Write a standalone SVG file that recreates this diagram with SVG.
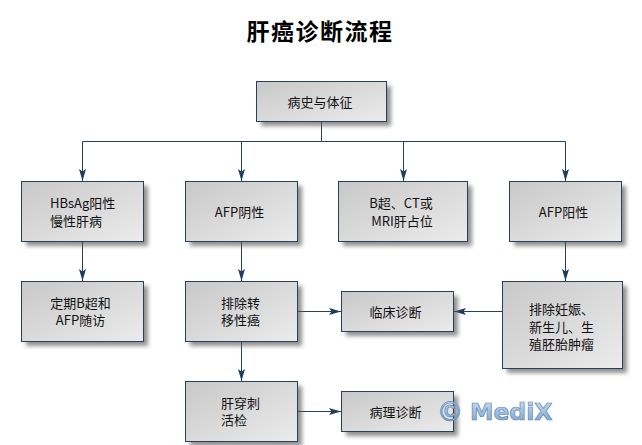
<svg xmlns="http://www.w3.org/2000/svg" width="642" height="445" viewBox="0 0 642 445">
<defs>
<linearGradient id="g" x1="0" y1="0" x2="1" y2="1"><stop offset="0" stop-color="#c8c8c8"/><stop offset="1" stop-color="#ebebeb"/></linearGradient>
<filter id="s" x="-10%" y="-10%" width="125%" height="130%"><feGaussianBlur stdDeviation="2"/></filter>
<linearGradient id="w" x1="0" y1="0" x2="0" y2="1"><stop offset="0" stop-color="#d6e4f3"/><stop offset="1" stop-color="#6f9ccb"/></linearGradient>
<marker id="a" markerUnits="userSpaceOnUse" markerWidth="13" markerHeight="13" refX="12" refY="6" orient="auto"><path d="M0,2.500 L2.500,6 L0,9.500 L12,6 Z" fill="#1f3d5e"/></marker>
</defs>
<style>
.b{fill:url(#g);stroke:#27415c;stroke-width:1}
.sh{fill:#555;opacity:.65;filter:url(#s)}
.t{font-family:"Noto Sans CJK SC","Liberation Sans",sans-serif;font-size:13px;fill:#111}
.c{fill:none;stroke:#27415c;stroke-width:1}
</style>
<rect width="642" height="445" fill="#fff"/>
<text x="320" y="40" text-anchor="middle" style="font-family:'Noto Sans CJK SC',sans-serif;font-size:23px;font-weight:700;letter-spacing:1.500px" fill="#000">肝癌诊断流程</text>
<g id="connectors">
<path class="c" d="M321.500,121 V141.500 H82.500"/>
<path class="c" d="M82.500,141.500 V181" marker-end="url(#a)"/>
<path class="c" d="M241.500,141.500 V181" marker-end="url(#a)"/>
<path class="c" d="M321.500,141.500 H565.500"/>
<path class="c" d="M403.500,141.500 V181" marker-end="url(#a)"/>
<path class="c" d="M565.500,141.500 V181" marker-end="url(#a)"/>
<path class="c" d="M82.500,242 V281" marker-end="url(#a)"/>
<path class="c" d="M241.500,242 V281" marker-end="url(#a)"/>
<path class="c" d="M565.500,242 V281" marker-end="url(#a)"/>
<path class="c" d="M297,311.500 H341" marker-end="url(#a)"/>
<path class="c" d="M502,311.500 H454" marker-end="url(#a)"/>
<path class="c" d="M241.500,341 V381" marker-end="url(#a)"/>
<path class="c" d="M297,411.500 H341" marker-end="url(#a)"/>
</g>
<g id="n1"><rect class="sh" x="261" y="86" width="130" height="40"/><rect class="b" x="256.500" y="81.500" width="130" height="40"/><text class="t" x="320" y="107" text-anchor="middle">病史与体征</text></g>
<g id="n2"><rect class="sh" x="26" y="186" width="122" height="60"/><rect class="b" x="21.500" y="181.500" width="122" height="60"/><text class="t"><tspan x="50" y="208">HBsAg阳性</tspan><tspan x="50" y="226">慢性肝病</tspan></text></g>
<g id="n3"><rect class="sh" x="190" y="186" width="112" height="60"/><rect class="b" x="185.500" y="181.500" width="112" height="60"/><text class="t" x="239.500" y="217" text-anchor="middle">AFP阴性</text></g>
<g id="n4"><rect class="sh" x="343" y="186" width="129" height="60"/><rect class="b" x="338.500" y="181.500" width="129" height="60"/><text class="t" text-anchor="middle"><tspan x="401" y="208">B超、CT或</tspan><tspan x="402" y="226">MRI肝占位</tspan></text></g>
<g id="n5"><rect class="sh" x="514" y="186" width="112" height="60"/><rect class="b" x="509.500" y="181.500" width="112" height="60"/><text class="t" x="563.500" y="217" text-anchor="middle">AFP阳性</text></g>
<g id="n6"><rect class="sh" x="26" y="286" width="122" height="60"/><rect class="b" x="21.500" y="281.500" width="122" height="60"/><text class="t" text-anchor="middle"><tspan x="80.500" y="307.500">定期B超和</tspan><tspan x="80.500" y="325">AFP随访</tspan></text></g>
<g id="n7"><rect class="sh" x="190" y="286" width="112" height="60"/><rect class="b" x="185.500" y="281.500" width="112" height="60"/><text class="t"><tspan x="221" y="307.500">排除转</tspan><tspan x="221" y="325">移性癌</tspan></text></g>
<g id="n8"><rect class="sh" x="346" y="296" width="112" height="40"/><rect class="b" x="341.500" y="291.500" width="112" height="40"/><text class="t" x="395.500" y="317" text-anchor="middle">临床诊断</text></g>
<g id="n9"><rect class="sh" x="507" y="286" width="120" height="87"/><rect class="b" x="502.500" y="281.500" width="120" height="87"/><text class="t"><tspan x="529" y="314">排除妊娠、</tspan><tspan x="529" y="331.500">新生儿、生</tspan><tspan x="529" y="349">殖胚胎肿瘤</tspan></text></g>
<g id="n10"><rect class="sh" x="190" y="386" width="112" height="60"/><rect class="b" x="185.500" y="381.500" width="112" height="60"/><text class="t"><tspan x="221" y="407.500">肝穿刺</tspan><tspan x="221" y="425">活检</tspan></text></g>
<g id="n11"><rect class="sh" x="346" y="396" width="112" height="40"/><rect class="b" x="341.500" y="391.500" width="112" height="40"/><text class="t" x="395.500" y="417" text-anchor="middle">病理诊断</text></g>
<text fill="url(#w)" stroke="#5b86b5" stroke-width=".7" font-weight="700"><tspan x="440" y="421" style="font-family:'Liberation Sans',sans-serif;font-size:27px">©</tspan><tspan x="470" y="420" style="font-family:'DejaVu Sans',sans-serif;font-size:23.500px">MediX</tspan></text>
</svg>
